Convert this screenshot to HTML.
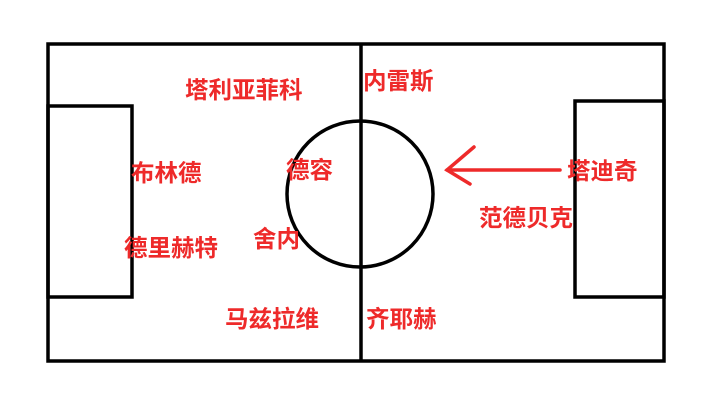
<!DOCTYPE html>
<html><head><meta charset="utf-8"><style>
html,body{margin:0;padding:0;background:#fff;}
svg{display:block}
text{font-family:"Liberation Sans","Noto Sans CJK SC",sans-serif;font-weight:bold;font-size:23.5px;fill:#ee2a2a}
</style></head><body>
<svg width="720" height="404" viewBox="0 0 720 404">
<g fill="none" stroke="#000" stroke-width="3.5">
<rect x="48" y="44" width="616" height="317"/>
<line x1="361" y1="44" x2="361" y2="361"/>
<rect x="48" y="106" width="84" height="191"/>
<rect x="575" y="101" width="89" height="196"/>
<circle cx="360" cy="194" r="73"/>
</g>
<g stroke="#ee2a2a" stroke-width="3.5" fill="none" stroke-linecap="round">
<line x1="560" y1="170" x2="447" y2="170"/>
<polyline points="474,147 447,170 470,184"/>
</g>
<text x="185" y="98">塔利亚菲科</text>
<text x="363" y="89">内雷斯</text>
<text x="131" y="181">布林德</text>
<text x="286" y="178">德容</text>
<text x="567" y="179">塔迪奇</text>
<text x="479" y="226">范德贝克</text>
<text x="124" y="256">德里赫特</text>
<text x="253" y="247">舍内</text>
<text x="225" y="327">马兹拉维</text>
<text x="366" y="327">齐耶赫</text>
</svg>
</body></html>
